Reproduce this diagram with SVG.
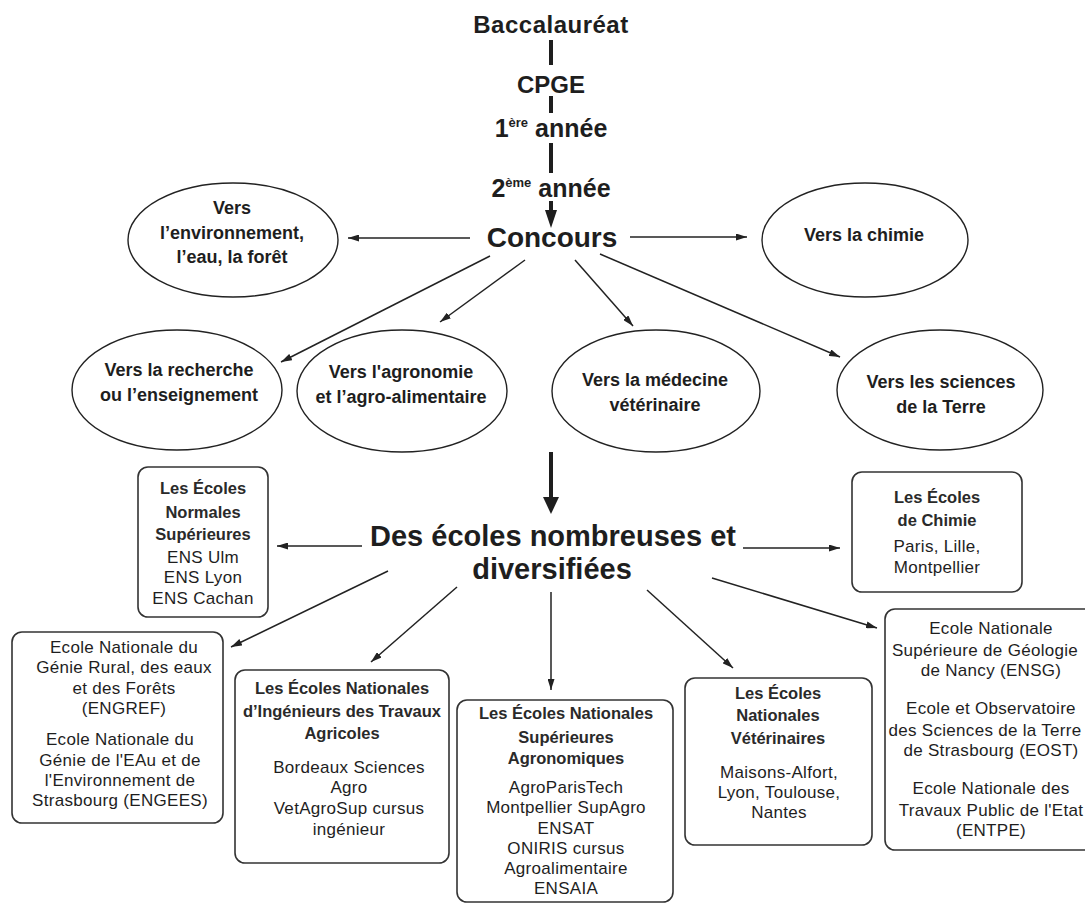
<svg xmlns="http://www.w3.org/2000/svg" width="1085" height="904" viewBox="0 0 1085 904">
<defs>
<style>
.h{font-family:'Liberation Sans',Arial,sans-serif;font-weight:bold;fill:#1e1e1e;text-anchor:middle}
.e{font-family:'Liberation Sans',Arial,sans-serif;font-weight:bold;font-size:18px;fill:#1e1e1e;text-anchor:middle}
.t{font-family:'Liberation Sans',Arial,sans-serif;font-weight:bold;font-size:16.5px;fill:#2a2a2a;text-anchor:middle}
.b{font-family:'Liberation Sans',Arial,sans-serif;font-size:17px;letter-spacing:0.3px;fill:#1e1e1e;text-anchor:middle}
.ov{fill:#fff;stroke:#222;stroke-width:1.4}
.bx{fill:#fff;stroke:#333;stroke-width:1.6}
.c{stroke:#222;stroke-width:1.5;fill:none;marker-end:url(#ah)}
.k{stroke:#1e1e1e;stroke-width:4;fill:none}
</style>
<marker id="ah" viewBox="0 0 11 7" refX="11" refY="3.5" markerWidth="11" markerHeight="7" markerUnits="userSpaceOnUse" orient="auto">
<path d="M0,0 L11,3.5 L0,7 z" fill="#222"/>
</marker>
</defs>
<rect width="1085" height="904" fill="#fff"/>

<g id="connectors">
<line class="k" x1="551" y1="40" x2="551" y2="65"/>
<line class="k" x1="551" y1="96" x2="551" y2="113"/>
<line class="k" x1="551" y1="143" x2="551" y2="173"/>
<line class="k" x1="551" y1="201" x2="551" y2="212"/>
<polygon points="545,210 557,210 551,228" fill="#1e1e1e"/>
<line class="k" x1="551" y1="452" x2="551" y2="500"/>
<polygon points="543,497 559,497 551,514" fill="#1e1e1e"/>
<line class="c" x1="470" y1="238" x2="348" y2="238"/>
<line class="c" x1="630" y1="237" x2="747" y2="237"/>
<line class="c" x1="490" y1="256" x2="281" y2="362"/>
<line class="c" x1="525" y1="260" x2="440" y2="322"/>
<line class="c" x1="575" y1="260" x2="633" y2="326"/>
<line class="c" x1="600" y1="254" x2="840" y2="357"/>
<line class="c" x1="362" y1="546" x2="277" y2="546"/>
<line class="c" x1="743" y1="548" x2="840" y2="548"/>
<line class="c" x1="388" y1="571" x2="231" y2="647"/>
<line class="c" x1="457" y1="587" x2="371" y2="662"/>
<line class="c" x1="551" y1="592" x2="551" y2="690"/>
<line class="c" x1="647" y1="590" x2="733" y2="668"/>
<line class="c" x1="712" y1="578" x2="877" y2="628"/>
</g>

<g id="bac"><text class="h" x="551" y="33" font-size="24" letter-spacing="0.5">Baccalauréat</text></g>
<g id="cpge"><text class="h" x="551" y="93" font-size="24">CPGE</text></g>
<g id="annee1"><text class="h" x="551" y="137" font-size="25">1<tspan font-size="13" dy="-10">ère</tspan><tspan dy="10"> année</tspan></text></g>
<g id="annee2"><text class="h" x="551" y="197" font-size="25">2<tspan font-size="13" dy="-10">ème</tspan><tspan dy="10"> année</tspan></text></g>
<g id="concours"><text class="h" x="552" y="247" font-size="28">Concours</text></g>

<g id="env"><ellipse class="ov" cx="233" cy="240" rx="105" ry="57"/>
<text class="e" x="232" y="214">Vers</text>
<text class="e" x="232" y="239">l’environnement,</text>
<text class="e" x="232" y="263">l’eau, la forêt</text></g>

<g id="chimie"><ellipse class="ov" cx="865" cy="240" rx="103" ry="57"/>
<text class="e" x="864" y="241">Vers la chimie</text></g>

<g id="recherche"><ellipse class="ov" cx="177" cy="390" rx="105" ry="60"/>
<text class="e" x="179" y="376">Vers la recherche</text>
<text class="e" x="179" y="401">ou l’enseignement</text></g>

<g id="agronomie"><ellipse class="ov" cx="402" cy="391" rx="105" ry="61"/>
<text class="e" x="401" y="378">Vers l'agronomie</text>
<text class="e" x="401" y="403">et l’agro-alimentaire</text></g>

<g id="medecine"><ellipse class="ov" cx="656" cy="391" rx="104" ry="61"/>
<text class="e" x="655" y="386">Vers la médecine</text>
<text class="e" x="655" y="411">vétérinaire</text></g>

<g id="terre"><ellipse class="ov" cx="940" cy="390" rx="103" ry="60"/>
<text class="e" x="941" y="388">Vers les sciences</text>
<text class="e" x="941" y="413">de la Terre</text></g>

<g id="ecoles"><text class="h" x="553" y="546" font-size="29">Des écoles nombreuses et</text>
<text class="h" x="552" y="579" font-size="29">diversifiées</text></g>

<g id="ens"><rect class="bx" x="138" y="467" width="130" height="150" rx="10"/>
<text class="t" x="203" y="494">Les Écoles</text>
<text class="t" x="203" y="518">Normales</text>
<text class="t" x="203" y="540">Supérieures</text>
<text class="b" x="203" y="563">ENS Ulm</text>
<text class="b" x="203" y="583">ENS Lyon</text>
<text class="b" x="203" y="604">ENS Cachan</text></g>

<g id="ecchimie"><rect class="bx" x="852" y="472" width="170" height="120" rx="10"/>
<text class="t" x="937" y="503">Les Écoles</text>
<text class="t" x="937" y="526">de Chimie</text>
<text class="b" x="937" y="552">Paris, Lille,</text>
<text class="b" x="937" y="573">Montpellier</text></g>

<g id="engref"><rect class="bx" x="12" y="632" width="211" height="191" rx="10"/>
<text class="b" x="124" y="653">Ecole Nationale du</text>
<text class="b" x="124" y="673">Génie Rural, des eaux</text>
<text class="b" x="124" y="694">et des Forêts</text>
<text class="b" x="124" y="714">(ENGREF)</text>
<text class="b" x="120" y="745">Ecole Nationale du</text>
<text class="b" x="120" y="766">Génie de l'EAu et de</text>
<text class="b" x="120" y="786">l'Environnement de</text>
<text class="b" x="120" y="806">Strasbourg (ENGEES)</text></g>

<g id="enita"><rect class="bx" x="235" y="670" width="214" height="193" rx="10"/>
<text class="t" x="342" y="694">Les Écoles Nationales</text>
<text class="t" x="342" y="717">d’Ingénieurs des Travaux</text>
<text class="t" x="342" y="739">Agricoles</text>
<text class="b" x="349" y="773">Bordeaux Sciences</text>
<text class="b" x="349" y="793">Agro</text>
<text class="b" x="349" y="814">VetAgroSup cursus</text>
<text class="b" x="349" y="835">ingénieur</text></g>

<g id="ensa"><rect class="bx" x="457" y="700" width="216" height="202" rx="10"/>
<text class="t" x="566" y="719">Les Écoles Nationales</text>
<text class="t" x="566" y="743">Supérieures</text>
<text class="t" x="566" y="764">Agronomiques</text>
<text class="b" x="566" y="793">AgroParisTech</text>
<text class="b" x="566" y="813">Montpellier SupAgro</text>
<text class="b" x="566" y="834">ENSAT</text>
<text class="b" x="566" y="854">ONIRIS cursus</text>
<text class="b" x="566" y="874">Agroalimentaire</text>
<text class="b" x="566" y="894">ENSAIA</text></g>

<g id="veto"><rect class="bx" x="685" y="678" width="187" height="167" rx="10"/>
<text class="t" x="778" y="699">Les Écoles</text>
<text class="t" x="778" y="721">Nationales</text>
<text class="t" x="778" y="744">Vétérinaires</text>
<text class="b" x="779" y="778">Maisons-Alfort,</text>
<text class="b" x="779" y="798">Lyon, Toulouse,</text>
<text class="b" x="779" y="818">Nantes</text></g>

<g id="ensg"><rect class="bx" x="885" y="609" width="215" height="241" rx="10"/>
<text class="b" x="991" y="634">Ecole Nationale</text>
<text class="b" x="985" y="656" letter-spacing="0">Supérieure de Géologie</text>
<text class="b" x="991" y="676">de Nancy (ENSG)</text>
<text class="b" x="991" y="714">Ecole et Observatoire</text>
<text class="b" x="985" y="736" letter-spacing="0">des Sciences de la Terre</text>
<text class="b" x="991" y="756">de Strasbourg (EOST)</text>
<text class="b" x="991" y="794">Ecole Nationale des</text>
<text class="b" x="991" y="816">Travaux Public de l'Etat</text>
<text class="b" x="991" y="836">(ENTPE)</text></g>
</svg>
